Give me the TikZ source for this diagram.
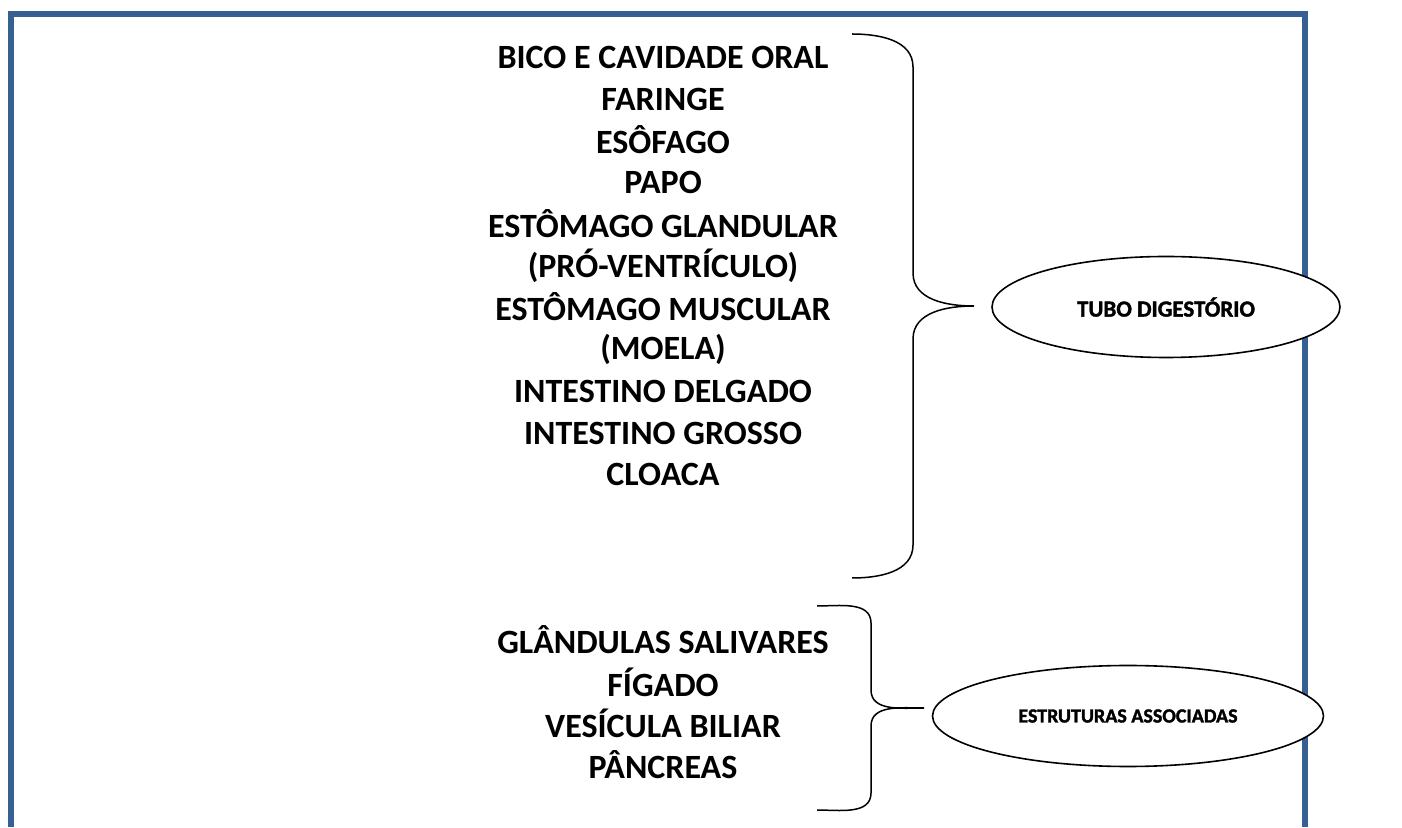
\documentclass[tikz,border=0pt]{standalone}
\usepackage{fontspec}
\setmainfont{Carlito}
\newfontfamily\heavyfont{Carlito}[BoldFeatures={FakeBold=1.6}]
\usetikzlibrary{shapes.geometric}
\definecolor{frameblue}{RGB}{54,96,145}
\tikzset{
	item/.style={font=\fontsize{34}{40}\selectfont\bfseries,inner sep=0pt,anchor=center},
	group/.style={draw,ellipse,fill=white,line width=1.6pt,inner sep=0pt},
	brace/.style={line width=1.5pt}
}
\begin{document}
\begin{tikzpicture}[x=1pt,y=1pt]
		\useasboundingbox (0,0) rectangle (1402,827);
		% frame, open at the bottom
		\draw[frameblue,line width=6pt] (11,0) -- (11,813) -- (1305,813) -- (1305,0);
		% digestive tube
		\node[item] (bico) at (663,770) {BICO E CAVIDADE ORAL};
		\node[item] (faringe) at (663,728) {FARINGE};
		\node[item] (esofago) at (663,687) {ESÔFAGO};
		\node[item] (papo) at (663,645) {PAPO};
		\node[item] (glandular) at (663,603) {ESTÔMAGO GLANDULAR};
		\node[item] (proventr) at (663,561) {(PRÓ-VENTRÍCULO)};
		\node[item] (muscular) at (663,520) {ESTÔMAGO MUSCULAR};
		\node[item] (moela) at (663,478) {(MOELA)};
		\node[item] (delgado) at (663,436) {INTESTINO DELGADO};
		\node[item] (grosso) at (663,394) {INTESTINO GROSSO};
		\node[item] (cloaca) at (663,353) {CLOACA};
		% associated structures
		\node[item] (salivares) at (663,187) {GLÂNDULAS SALIVARES};
		\node[item] (figado) at (663,145) {FÍGADO};
		\node[item] (vesicula) at (663,104) {VESÍCULA BILIAR};
		\node[item] (pancreas) at (663,62) {PÂNCREAS};
		% braces
		\coordinate (tubotip) at (974,521);
		\coordinate (assoctip) at (924,119);
		\draw[brace] (852,793) to[out=0,in=90] (913,760) -- (913,554) to[out=-90,in=180] (tubotip)
			to[out=180,in=90] (913,488) -- (913,282) to[out=-90,in=0] (852,249);
		\draw[brace] (817,221) to[out=0,in=90] (871,204) -- (871,137) to[out=-90,in=180] (assoctip)
			to[out=180,in=90] (871,101) -- (871,34) to[out=-90,in=0] (817,17);
		% labels
		\node[group,minimum width=348pt,minimum height=101pt,font=\heavyfont\fontsize{23}{27}\selectfont\bfseries] (tubo) at (1166,520) {TUBO DIGESTÓRIO};
		\node[group,minimum width=391pt,minimum height=101pt,font=\heavyfont\fontsize{20}{24}\selectfont\bfseries] (assoc) at (1128,111) {ESTRUTURAS ASSOCIADAS};
	\end{tikzpicture}
\end{document}
